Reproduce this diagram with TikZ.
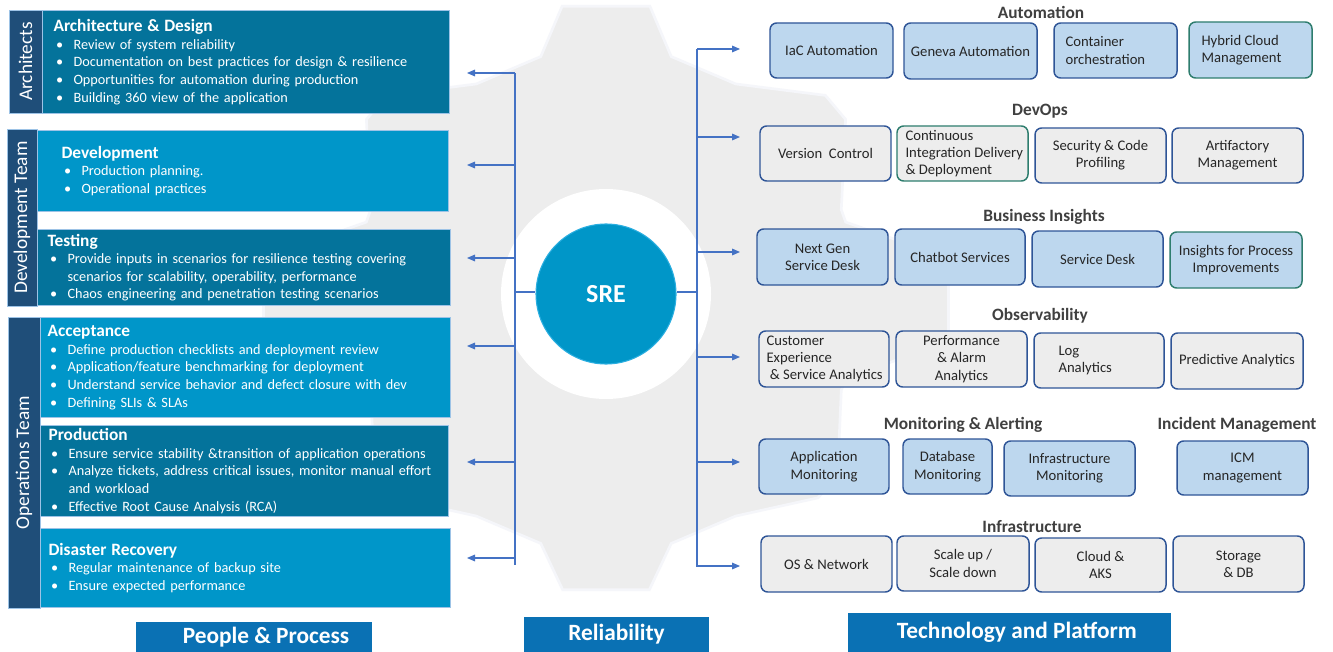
\documentclass[tikz,border=0pt]{standalone}
\usepackage{fontspec}
\setmainfont{Carlito}
\usetikzlibrary{arrows.meta}
\definecolor{navy}{HTML}{1F4E79}
\definecolor{tealbox}{HTML}{04739B}
\definecolor{brightbox}{HTML}{0096C9}
\definecolor{edgeblue}{HTML}{9DC3E6}
\definecolor{labelblue}{HTML}{0A71B4}
\definecolor{gearfill}{HTML}{EDEDED}
\definecolor{gearedge}{HTML}{F5F6FA}
\definecolor{srefill}{HTML}{0096C8}
\definecolor{srerim}{HTML}{2AAEE0}
\definecolor{linkblue}{HTML}{4472C4}
\definecolor{rborder}{HTML}{2F5597}
\definecolor{tborder}{HTML}{2E7D6E}
\definecolor{lblue}{HTML}{BDD7EE}
\definecolor{lgray}{HTML}{EDEDED}
\definecolor{titlegray}{HTML}{404040}
\newcommand{\ltitle}[1]{{\fontsize{13}{15}\selectfont\bfseries #1\par}}
\newcommand{\bul}[1]{\par\noindent\hyphenpenalty=10000\hangindent=15pt\hangafter=1\makebox[15pt][l]{\hspace{2pt}\textbullet}#1}
\begin{document}
\begin{tikzpicture}[x=0.75pt, y=-0.75pt,
  sz/.style 2 args={minimum width=#1*0.75pt, minimum height=#2*0.75pt},
  lbox/.style={draw=edgeblue, line width=0.8pt, text=white, anchor=north west, inner sep=0pt,
    font=\fontsize{10.7}{13.2}\selectfont},
  side/.style={fill=navy, draw=edgeblue, line width=0.5pt, text=white, rotate=90, inner sep=0pt,
    font=\fontsize{14.5}{16}\selectfont},
  rbox/.style={rounded corners=5pt, draw=rborder, line width=1.1pt, text=black!85, align=center,
    inner sep=0pt, font=\fontsize{11}{13}\selectfont},
  blu/.style={rbox, fill=lblue},
  gry/.style={rbox, fill=lgray},
  tealedge/.style={draw=tborder},
  rtext/.style={text=black!85, inner sep=0pt, anchor=west, align=left, font=\fontsize{11}{13}\selectfont},
  rtitle/.style={text=titlegray, font=\fontsize{13}{15}\selectfont\bfseries},
  lab/.style={fill=labelblue, text=white, inner sep=0pt, font=\fontsize{17.5}{20}\selectfont\bfseries},
  link/.style={draw=linkblue, line width=0.8pt},
  arr/.style={link, -{Triangle[length=6pt,width=5pt]}}]
\useasboundingbox (0,0) rectangle (1333,652);
\fill[white] (0,0) rectangle (1333,652);

% gear
\begin{scope}[shift={(606,300)}]
  \filldraw[fill=gearfill, draw=gearedge, line width=2pt] (-105:252)
    \foreach \a/\rh/\oh/\R in {-90/15/8.5/297, -40/19/3/300, 0/18/7/345, 40/19/3/290,
                               90/15/8.5/293, 140/19/3/290, 180/18/7/345, 220/19/3/300}
    { -- (\a-\rh:252) -- (\a-\oh:\R) -- (\a+\oh:\R) -- (\a+\rh:252) } -- cycle;
\end{scope}
\node[circle, fill=white, minimum size=210*0.75pt] (halo) at (606,294) {};
\node[circle, fill=srefill, draw=srerim, line width=0.8pt, minimum size=140*0.75pt, text=white,
  font=\fontsize{19.5}{22}\selectfont\bfseries] (sre) at (606,294) {SRE};

% people and process
\node[side, sz={103}{33}] (archside) at (25.5,61.5) {Architects};
\node[side, sz={177}{30}] (devside) at (22,217.5) {Development Team};
\node[side, sz={291}{32}] (opsside) at (24,462.5) {Operations Team};
\node[lbox, fill=tealbox, sz={407}{103}, text width=288.75pt] (arch) at (42,10) {%
  \ltitle{Architecture \& Design}
  \bul{Review of system reliability}
  \bul{Documentation on best practices for design \& resilience}
  \bul{Opportunities for automation during production}
  \bul{Building 360 view of the application}};
\node[lbox, fill=brightbox, sz={411}{81}, text width=272.25pt] (dev) at (37,130) {%
  \ltitle{Development}
  \bul{Production planning.}
  \bul{Operational practices}};
\node[lbox, fill=tealbox, sz={413}{76}, text width=294.75pt] (test) at (37,229) {%
  \ltitle{Testing}
  \bul{Provide inputs in scenarios for resilience testing covering\newline scenarios for scalability, operability, performance}
  \bul{Chaos engineering and penetration testing scenarios}};
\node[lbox, fill=brightbox, sz={410}{100}, text width=297pt] (acc) at (40,317) {%
  \ltitle{Acceptance}
  \bul{Define production checklists and deployment review}
  \bul{Application/feature benchmarking for deployment}
  \bul{Understand service behavior and defect closure with dev}
  \bul{Defining SLIs \& SLAs}};
\node[lbox, fill=tealbox, sz={408}{91}, text width=294pt] (prod) at (40,425) {%
  \ltitle{Production}
  \bul{Ensure service stability \&transition of application operations}
  \bul{Analyze tickets, address critical issues, monitor manual effort\newline and workload}
  \bul{Effective Root Cause Analysis (RCA)}};
\node[lbox, fill=brightbox, sz={410}{79}, text width=295.5pt] (dr) at (40,528) {%
  \ltitle{Disaster Recovery}
  \bul{Regular maintenance of backup site}
  \bul{Ensure expected performance}};

% connectors
\coordinate (lbtop) at (515,73);
\coordinate (lbbot) at (515,565);
\coordinate (lhub) at (515,292);
\coordinate (rbtop) at (697,49);
\coordinate (rbbot) at (697,567);
\coordinate (rhub) at (697,292);
\draw[link] (lbtop) -- (lbbot);
\draw[link] (rbtop) -- (rbbot);
\draw[link] (lhub) -- (lhub -| sre.west);
\draw[link] (rhub) -- (rhub -| sre.east);
\foreach \y [count=\i] in {73,165,258,346,462,558} {
  \coordinate (lb\i) at (515,\y);
  \coordinate (lt\i) at (467,\y);
  \draw[arr] (lb\i) -- (lt\i);
}
\foreach \y [count=\i] in {49,137,252,357,462,566} {
  \coordinate (rb\i) at (697,\y);
  \coordinate (rt\i) at (740,\y);
  \draw[arr] (rb\i) -- (rt\i);
}

% technology and platform
\node[rtitle] (tauto) at (1041,12) {Automation};
\node[blu, sz={123}{55}] (iac) at (831.5,50.5) {IaC Automation};
\node[blu, sz={133}{56}] (geneva) at (970.5,51) {Geneva Automation};
\node[blu, sz={123}{55}] (container) at (1115.5,50.5) {};
\node[rtext] (containert) at ([xshift=9pt]container.west) {Container\\orchestration};
\node[blu, tealedge, sz={123}{56}] (hybrid) at (1250.5,50) {};
\node[rtext] (hybridt) at ([xshift=9.75pt]hybrid.west) {Hybrid Cloud\\Management};

\node[rtitle] (tdevops) at (1040,111) {DevOps};
\node[gry, sz={131}{55}] (vcs) at (825.5,153.5) {Version\ \ Control};
\node[gry, tealedge, sz={131}{55}] (cicd) at (962.5,153.5) {};
\node[rtext] (cicdt) at ([xshift=6.75pt]cicd.west) {Continuous\\Integration Delivery\\\& Deployment};
\node[gry, sz={131}{55}] (secprof) at (1100.5,155.5) {Security \& Code\\Profiling};
\node[gry, sz={131}{55}] (artifact) at (1237.5,155.5) {Artifactory\\Management};

\node[rtitle] (tbiz) at (1044,217) {Business Insights};
\node[blu, sz={131}{56}] (nextgen) at (822.5,257) {Next Gen\\Service Desk};
\node[blu, sz={130}{56}] (chatbot) at (960,257) {Chatbot Services};
\node[blu, sz={131}{56}] (svcdesk) at (1097.5,259) {Service Desk};
\node[blu, tealedge, sz={132}{56}] (insights) at (1236,260) {Insights for Process\\Improvements};

\node[rtitle] (tobs) at (1040,316) {Observability};
\node[gry, sz={130}{56}] (custexp) at (824,359) {};
\node[rtext] (custexpt) at ([xshift=6pt]custexp.west) {Customer\\Experience\\\hspace{2.5pt}\& Service Analytics};
\node[gry, sz={131}{56}] (perf) at (961.5,359) {Performance\\\& Alarm\\Analytics};
\node[gry, sz={130}{55}] (logan) at (1099,360.5) {};
\node[rtext] (logant) at ([xshift=18.75pt]logan.west) {Log\\Analytics};
\node[gry, sz={132}{56}] (predict) at (1237,361) {Predictive Analytics};

\node[rtitle] (tmon) at (963,425) {Monitoring \& Alerting};
\node[rtitle] (tinc) at (1237,425) {Incident Management};
\node[blu, sz={130}{55}] (appmon) at (824,466.5) {Application\\Monitoring};
\node[blu, sz={89}{55}] (dbmon) at (947.5,466.5) {Database\\Monitoring};
\node[blu, sz={131}{55}] (inframon) at (1069.5,468.5) {Infrastructure\\Monitoring};
\node[blu, sz={131}{54}] (icm) at (1242.5,468) {ICM\\management};

\node[rtitle] (tinfra) at (1032,527) {Infrastructure};
\node[gry, sz={131}{56}] (osnet) at (826.5,564) {OS \& Network};
\node[gry, sz={132}{55}] (scale) at (963,563.5) {Scale up /\\Scale down};
\node[gry, sz={131}{54}] (cloud) at (1100.5,565) {Cloud \&\\AKS};
\node[gry, sz={131}{56}] (storage) at (1238.5,564) {Storage\\\& DB};

% footer labels
\node[lab, sz={236}{30}] (people) at (254,637) {\hspace{18pt}People \& Process};
\node[lab, sz={185}{35}] (reliab) at (616.5,634.5) {Reliability};
\node[lab, sz={323}{39}] (techplat) at (1009.5,632.5) {\hspace{11pt}Technology and Platform};
\end{tikzpicture}
\end{document}
